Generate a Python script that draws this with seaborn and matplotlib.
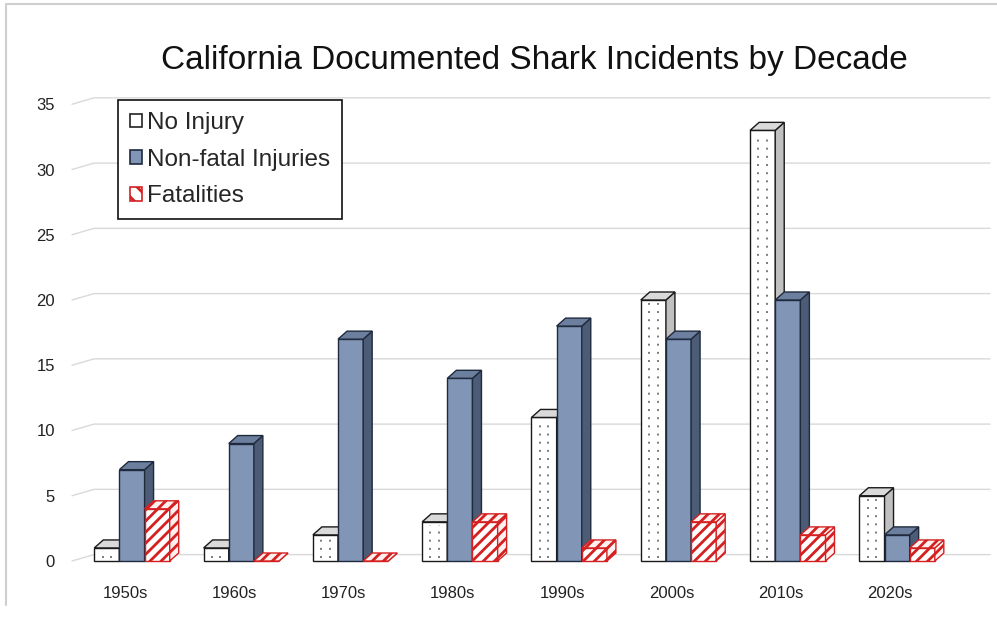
import matplotlib
matplotlib.use("Agg")
import matplotlib.pyplot as plt
import pandas as pd
import seaborn as sns
from matplotlib.patches import Polygon, Patch
from matplotlib.lines import Line2D

# Data
decades = ['1950s', '1960s', '1970s', '1980s', '1990s', '2000s', '2010s', '2020s']
no_injury = [1, 1, 2, 3, 11, 20, 33, 5]
non_fatal = [7, 9, 17, 14, 18, 17, 20, 2]
fatalities = [4, 0, 0, 3, 1, 3, 2, 1]
series = ['No Injury', 'Non-fatal Injuries', 'Fatalities']
y_ticks = [0, 5, 10, 15, 20, 25, 30, 35]

df = pd.DataFrame({
    'decade': decades * 3,
    'count': no_injury + non_fatal + fatalities,
    'type': [s for s in series for _ in decades],
})

sns.set_theme(style='white')
plt.rcParams['font.family'] = ['Liberation Sans', 'DejaVu Sans']
plt.rcParams['hatch.linewidth'] = 2.0

fig = plt.figure(figsize=(9.97, 6.17), dpi=100)
W, H = 997, 617
L_px, R_px, T_px, B_px = 62, 990, 90, 575
ax = fig.add_axes([L_px / W, 1 - B_px / H, (R_px - L_px) / W, (B_px - T_px) / H])

front_colors = {'No Injury': 'white', 'Non-fatal Injuries': '#8195b7', 'Fatalities': 'white'}
sns.barplot(data=df, x='decade', y='count', hue='type', hue_order=series,
            palette=front_colors, width=0.69, gap=0, saturation=1,
            legend=False, ax=ax)

# pixel scale of the reference
px_x = 109.3
px_y = 13.05
y0_px = 561
xmin = -(132 - L_px) / px_x
xmax = xmin + (R_px - L_px) / px_x
ymin = -(B_px - y0_px) / px_y
ymax = ymin + (B_px - T_px) / px_y
ax.set_xlim(xmin, xmax)
ax.set_ylim(ymin, ymax)

# 3-D depth offsets
dx = 9 / px_x
dy = 8 / px_y

styles = {
    'No Injury': dict(edge='#1a1a1a', side='#c0c0c0', top='#dadada', side_edge='#1a1a1a', hatch=None),
    'Non-fatal Injuries': dict(edge='#1f2a3d', side='#4c5b76', top='#6d7f9f', side_edge='#1f2a3d', hatch=None),
    'Fatalities': dict(edge='#d42020', side='#fff0f0', top='#fff0f0', side_edge='#d42020', hatch='///'),
}

for j, (name, cont) in enumerate(zip(series, ax.containers)):
    st = styles[name]
    zf = 3 + 3 * j
    for bar in cont:
        x0 = bar.get_x()
        w = bar.get_width()
        h = bar.get_height()
        bar.set_edgecolor(st['edge'])
        bar.set_linewidth(1.0)
        bar.set_zorder(zf)
        if st['hatch']:
            bar.set_hatch(st['hatch'])
        if name == 'No Injury' and h > 0:
            # faint dotted texture of the white bars
            for f in (0.33, 0.67):
                ax.plot([x0 + w * f, x0 + w * f], [0.25, h - 0.25], color='#7a7a7a',
                        lw=1.4, ls=(0, (1, 3.2)), zorder=zf + 0.1)
        side = Polygon([(x0 + w, 0), (x0 + w + dx, dy), (x0 + w + dx, h + dy), (x0 + w, h)],
                       closed=True, facecolor=st['side'], edgecolor=st['side_edge'],
                       linewidth=1.0, hatch=st['hatch'], zorder=zf + 1)
        top = Polygon([(x0, h), (x0 + dx, h + dy), (x0 + w + dx, h + dy), (x0 + w, h)],
                      closed=True, facecolor=st['top'], edgecolor=st['side_edge'],
                      linewidth=1.0, hatch=st['hatch'], zorder=zf + 1)
        ax.add_patch(side)
        ax.add_patch(top)

# back-wall gridlines with a slanted lead-in
gx0 = xmin + 10 / px_x
gx1 = xmin + 32 / px_x
for v in y_ticks:
    ax.plot([gx0, gx1, xmax], [v, v + dy * 0.8, v + dy * 0.8], color='#d9d9d9', lw=1.0,
            zorder=1, clip_on=False)

ax.set_xticks([i - 7 / px_x for i in range(len(decades))])
ax.set_xticklabels(decades)
ax.set_yticks(y_ticks)
ax.set_xlabel('')
ax.set_ylabel('')
ax.tick_params(axis='both', length=0, labelsize=12, colors='#222222')
ax.tick_params(axis='y', pad=5)
ax.tick_params(axis='x', pad=8)
for s in ax.spines.values():
    s.set_visible(False)
ax.grid(False)

fig.text(534 / W, 1 - 60 / H, 'California Documented Shark Incidents by Decade',
         ha='center', va='center', fontsize=24, color='#111111')

handles = [
    Patch(facecolor='white', edgecolor='#222222', linewidth=1.2),
    Patch(facecolor='#8195b7', edgecolor='#1f2a3d', linewidth=1.2),
    Patch(facecolor='white', edgecolor='#d42020', hatch='\\\\', linewidth=1.2),
]
leg = ax.legend(handles, series, loc='upper left',
                bbox_to_anchor=((118 - L_px) / (R_px - L_px), 1 - (100 - T_px) / (B_px - T_px)),
                borderaxespad=0, fontsize=17.5, frameon=True, fancybox=False,
                handlelength=0.5, handleheight=0.5, handletextpad=0.2,
                labelspacing=0.6, borderpad=0.5, framealpha=1)
leg.get_frame().set_edgecolor('#111111')
leg.get_frame().set_linewidth(1.2)
leg.set_zorder(20)

# faint border of the chart area
fig.add_artist(Line2D([6 / W, 6 / W], [1 - 4 / H, 1 - 605 / H], color='#cfcfcf', lw=1.5))
fig.add_artist(Line2D([6 / W, 1], [1 - 4 / H, 1 - 4 / H], color='#cfcfcf', lw=1.5))

fig.savefig('out.png', dpi=100)
